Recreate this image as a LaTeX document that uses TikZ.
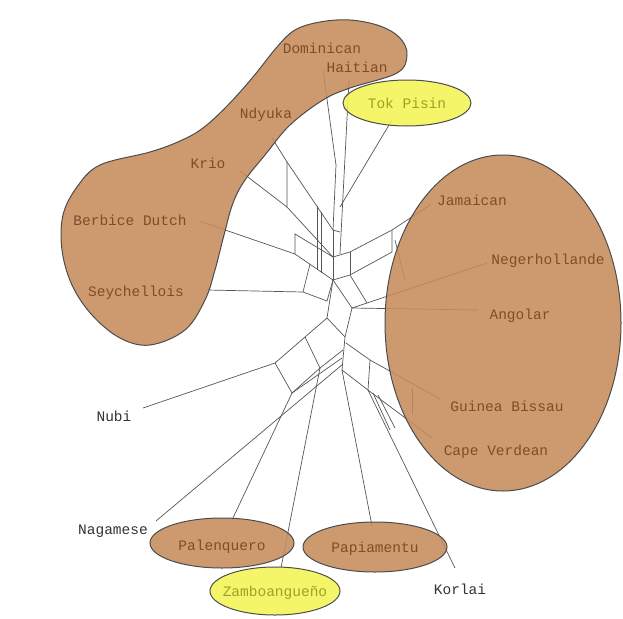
\documentclass[tikz,border=0pt]{standalone}
\usepackage{fontspec}
\setmonofont{Liberation Mono}
\usetikzlibrary{positioning}
\definecolor{creole}{RGB}{198,140,92}
\definecolor{creoletext}{RGB}{128,76,38}
\definecolor{tokyellow}{RGB}{244,244,84}
\definecolor{tokyellowtext}{RGB}{160,160,40}
\definecolor{netgray}{RGB}{85,85,85}
\tikzset{lang/.style={font=\ttfamily\fontsize{14.5}{16}\selectfont,inner sep=0pt}}
\tikzset{inlang/.style={lang,text=creoletext}}
\tikzset{ylang/.style={lang,text=tokyellowtext}}
\tikzset{outlang/.style={lang,text=black!80}}
\tikzset{split/.style={netgray,line width=0.7pt}}
\tikzset{blob/.style={draw=black!70,line width=1pt,fill=creole,fill opacity=0.88}}
\tikzset{yblob/.style={draw=black!70,line width=1pt,fill=tokyellow,fill opacity=0.88}}

\begin{document}
\begin{tikzpicture}[x=1pt,y=-1pt]
\useasboundingbox (0,0) rectangle (623,618);

% leaf ends
\coordinate (dom0) at (323,70);
\coordinate (hai0) at (349,80);
\coordinate (tok0) at (392,120);
\coordinate (ndy0) at (272,138);
\coordinate (kri0) at (240,171);
\coordinate (ber0) at (199,221);
\coordinate (sey0) at (207,290);
\coordinate (jam0) at (430,205);
\coordinate (neg0) at (487,263);
\coordinate (ang0) at (478,310);
\coordinate (gui0) at (440,399);
\coordinate (cap0) at (432,438);
\coordinate (nub0) at (143,408);
\coordinate (nag0) at (156,521);
\coordinate (pal0) at (232,520);
\coordinate (zam0) at (281,568);
\coordinate (pap0) at (372,526);
\coordinate (kor0) at (455,568);

% splits network
\draw[split] (dom0) -- (336,165) -- (333,230);
\draw[split] (hai0) -- (340,254);
\draw[split] (tok0) -- (340,207);
\draw[split] (333,230) -- (340,232);

\draw[split] (ndy0) -- (287,162) -- (333,230);
\draw[split] (287,162) -- (287,207) -- (333,257);
\draw[split] (kri0) -- (287,207);
\draw[split] (317,206) -- (317,270);
\draw[split] (321,212) -- (321,273);

\draw[split] (ber0) -- (295,254) -- (333,280);
\draw[split] (295,254) -- (295,234) -- (333,257);
\draw[split] (sey0) -- (303,292) -- (327,301) -- (333,280);
\draw[split] (303,292) -- (310,264);
\draw[split] (333,230) -- (333,280);

\draw[split] (jam0) -- (392,230) -- (350,252) -- (333,257);
\draw[split] (392,230) -- (392,252) -- (350,275) -- (333,280);
\draw[split] (350,252) -- (350,275);
\draw[split] (395,240) -- (405,280);

\draw[split] (neg0) -- (367,303) -- (350,275);
\draw[split] (ang0) -- (352,308) -- (333,280);
\draw[split] (367,303) -- (352,308);

\draw[split] (352,308) -- (345,337) -- (342,370);
\draw[split] (333,280) -- (327,318) -- (345,337);
\draw[split] (327,318) -- (305,337) -- (275,363);
\draw[split] (nub0) -- (275,363) -- (292,393) -- (320,368) -- (305,337);
\draw[split] (292,393) -- (342,358);
\draw[split] (320,368) -- (343,350);
\draw[split] (pal0) -- (292,393);
\draw[split] (nag0) -- (343,364);
\draw[split] (zam0) -- (320,368);

\draw[split] (pap0) -- (342,370);
\draw[split] (342,370) -- (368,390) -- (kor0);
\draw[split] (gui0) -- (370,360) -- (346,343);
\draw[split] (370,360) -- (368,390);
\draw[split] (cap0) -- (368,390);
\draw[split] (373,393) -- (390,430);
\draw[split] (378,395) -- (395,428);
\draw[split] (412,388) -- (412,414);

% groups
\filldraw[blob] plot[smooth cycle,tension=0.6] coordinates {
  (320,22) (350,20) (380,26) (400,38) (407,55) (397,73) (350,88) (323,100)
  (290,125) (265,155) (245,180) (233,203) (224,235) (215,270) (205,300)
  (185,330) (150,345) (120,338) (92,315) (72,285) (62,250) (63,215)
  (77,187) (100,165) (150,152) (180,141) (203,128) (228,105) (253,77)
  (277,47) (295,30)};
\filldraw[yblob] (407,103) ellipse (64 and 23);
\filldraw[blob] (503,323) ellipse (118 and 168);
\filldraw[blob] (222,543) ellipse (72 and 25);
\filldraw[blob] (375,547) ellipse (72 and 25);
\filldraw[yblob] (275,591) ellipse (65 and 24);

% languages
\node[inlang] (dominican) at (322,48) {Dominican};
\node[inlang] (haitian) at (357,67) {Haitian};
\node[ylang] (tokpisin) at (407,103) {Tok Pisin};
\node[inlang] (ndyuka) at (266,115) {Ndyuka};
\node[inlang] (krio) at (208,163) {Krio};
\node[inlang] (berbice) at (130,220) {Berbice Dutch};
\node[inlang] (seychellois) at (136,293) {Seychellois};
\node[inlang] (jamaican) at (472,200) {Jamaican};
\node[inlang] (negerhollande) at (548,261) {Negerhollande};
\node[inlang] (angolar) at (520,316) {Angolar};
\node[inlang] (guinea) at (507,406) {Guinea Bissau};
\node[inlang] (capeverdean) at (496,452) {Cape Verdean};
\node[outlang] (nubi) at (114,416) {Nubi};
\node[outlang] (nagamese) at (113,531) {Nagamese};
\node[inlang] (palenquero) at (222,547) {Palenquero};
\node[inlang] (papiamentu) at (375,549) {Papiamentu};
\node[ylang] (zamboangueno) at (275,593) {Zamboangueño};
\node[outlang] (korlai) at (460,589) {Korlai};

\end{tikzpicture}
\end{document}
